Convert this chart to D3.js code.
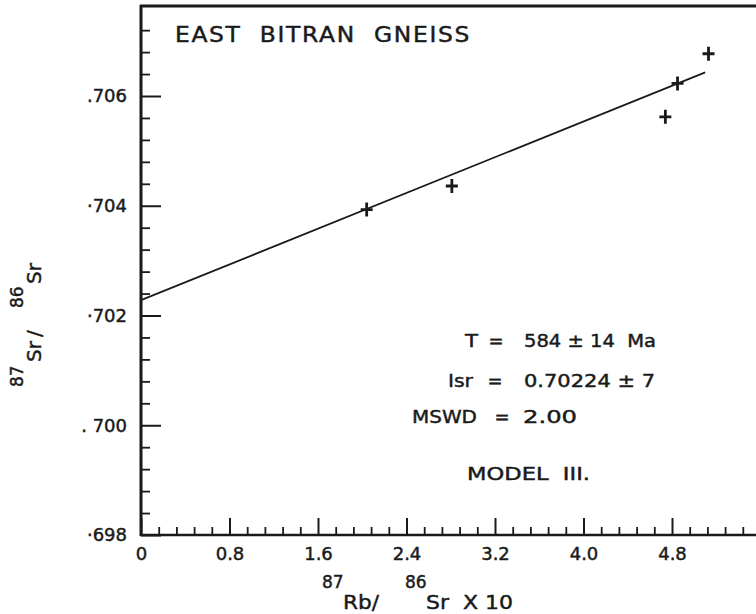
<!DOCTYPE html>
<html>
<head>
<meta charset="utf-8">
<script src="https://cdn.jsdelivr.net/npm/d3@7/dist/d3.min.js"></script>
<style>
  html, body { margin: 0; padding: 0; background: #fff; }
  svg { display: block; }
  text { font-family: "DejaVu Sans", sans-serif; fill: #1a1a1a; stroke: #1a1a1a; stroke-width: 0.45px; white-space: pre; }
</style>
</head>
<body>
<svg id="chart" width="756" height="614"></svg>
<script>
// ---- data ----
const rbSr = [2.04, 2.81, 4.74, 4.85, 5.13];          // 87Rb/86Sr x10
const srSr = [0.70393, 0.70436, 0.70562, 0.70623, 0.70677]; // 87Sr/86Sr
const isochronX = [0, 5.10];
const isochronY = [0.70228, 0.70643];

const xMajorTicks = [0, 0.8, 1.6, 2.4, 3.2, 4.0, 4.8];
const xTickLabels = ["0", "0.8", "1.6", "2.4", "3.2", "4.0", "4.8"];
const yMajorTicks = [0.698, 0.700, 0.702, 0.704, 0.706];
const yTickLabels = ["·698", ". 700", "·702", "·704", ".706"];

const titleText = "EAST  BITRAN  GNEISS";
const statLabels = ["T", "Isr", "MSWD"];
const statValues = ["584 ± 14  Ma", "0.70224 ± 7", "2.00"];
const modelText = "MODEL  III.";

// ---- layout ----
const svg = d3.select("#chart");
const x = d3.scaleLinear().domain([0, 5.6]).range([141, 760.5]);
const y = d3.scaleLinear().domain([0.698, 0.706]).range([535, 96]);
const yTop = 0.70764;

const xMinor = d3.range(0, 36).map(i => +(i * 0.16).toFixed(2)).filter(v => !xMajorTicks.some(m => Math.abs(m - v) < 1e-6));
const yMinor = d3.range(0, 24).map(i => +(0.698 + i * 0.0004).toFixed(4)).filter(v => !yMajorTicks.some(m => Math.abs(m - v) < 1e-7));

// minor ticks
svg.append("g").attr("transform", "translate(141,0)")
  .call(d3.axisLeft(y).tickValues(yMinor).tickSize(-9).tickFormat(""))
  .call(g => g.select(".domain").remove())
  .selectAll("line").attr("stroke", "#1a1a1a").attr("stroke-width", 1.8);
svg.append("g").attr("transform", "translate(0,535)")
  .call(d3.axisBottom(x).tickValues(xMinor).tickSize(-8).tickFormat(""))
  .call(g => g.select(".domain").remove())
  .selectAll("line").attr("stroke", "#1a1a1a").attr("stroke-width", 1.8);

// major ticks with labels
svg.append("g").attr("transform", "translate(141,0)")
  .call(d3.axisLeft(y).tickValues(yMajorTicks).tickSize(-20).tickPadding(14)
    .tickFormat((d, i) => yTickLabels[i]))
  .call(g => g.select(".domain").remove())
  .call(g => g.selectAll("line").attr("stroke", "#1a1a1a").attr("stroke-width", 2))
  .call(g => g.selectAll("text").attr("font-size", 18).attr("fill", "#1a1a1a")
    .attr("font-family", "DejaVu Sans, sans-serif"));
svg.append("g").attr("transform", "translate(0,535)")
  .call(d3.axisBottom(x).tickValues(xMajorTicks).tickSize(-17).tickPadding(12)
    .tickFormat((d, i) => xTickLabels[i]))
  .call(g => g.select(".domain").remove())
  .call(g => g.selectAll("line").attr("stroke", "#1a1a1a").attr("stroke-width", 2))
  .call(g => g.selectAll("text").attr("font-size", 18).attr("fill", "#1a1a1a")
    .attr("font-family", "DejaVu Sans, sans-serif"));

// frame: left axis, bottom axis, top border
svg.append("line").attr("x1", 141).attr("x2", 141).attr("y1", y(yTop) - 1).attr("y2", 536)
  .attr("stroke", "#1a1a1a").attr("stroke-width", 3);
svg.append("line").attr("x1", 140).attr("x2", 760).attr("y1", 535).attr("y2", 535)
  .attr("stroke", "#1a1a1a").attr("stroke-width", 2.5);
svg.append("line").attr("x1", 140).attr("x2", 760).attr("y1", y(yTop)).attr("y2", y(yTop))
  .attr("stroke", "#1a1a1a").attr("stroke-width", 3);

// isochron line
svg.append("path")
  .datum(isochronX.map((v, i) => [v, isochronY[i]]))
  .attr("d", d3.line().x(d => x(d[0])).y(d => y(d[1])))
  .attr("fill", "none").attr("stroke", "#1a1a1a").attr("stroke-width", 1.7);

// data crosses
const pts = rbSr.map((v, i) => [v, srSr[i]]);
svg.append("g").selectAll("path").data(pts).join("path")
  .attr("d", d => {
    const cx = x(d[0]), cy = y(d[1]);
    return `M${cx - 6},${cy}H${cx + 6}M${cx},${cy - 7}V${cy + 7}`;
  })
  .attr("stroke", "#1a1a1a").attr("stroke-width", 2.8).attr("fill", "none");

// title
svg.append("text").attr("x", 175).attr("y", 42).attr("font-size", 21)
  .attr("letter-spacing", 1.5)
  .attr("textLength", 296).attr("lengthAdjust", "spacingAndGlyphs").text(titleText);

// statistics block
const statRows = [
  { lx: 465, lw: 13, ex: 496, vx: 524, vw: 132, by: 347 },
  { lx: 448, lw: 25, ex: 495, vx: 524, vw: 131, by: 387 },
  { lx: 412, lw: 65, ex: 502, vx: 523, vw: 54, by: 423 }
];
statRows.forEach((r, i) => {
  svg.append("text").attr("x", r.lx).attr("y", r.by).attr("font-size", 18)
    .attr("textLength", r.lw).attr("lengthAdjust", "spacingAndGlyphs").text(statLabels[i]);
  svg.append("text").attr("x", r.ex).attr("y", r.by).attr("font-size", 18)
    .attr("text-anchor", "middle").text("=");
  svg.append("text").attr("x", r.vx).attr("y", r.by).attr("font-size", 18)
    .attr("textLength", r.vw).attr("lengthAdjust", "spacingAndGlyphs").text(statValues[i]);
});
svg.append("text").attr("x", 467).attr("y", 480).attr("font-size", 18)
  .attr("textLength", 123).attr("lengthAdjust", "spacingAndGlyphs").text(modelText);

// x-axis title: 87Rb/ 86Sr X 10
svg.append("text").attr("x", 322).attr("y", 588).attr("font-size", 17).text("87");
svg.append("text").attr("x", 343).attr("y", 609).attr("font-size", 20)
  .attr("textLength", 36).attr("lengthAdjust", "spacingAndGlyphs").text("Rb/");
svg.append("text").attr("x", 405).attr("y", 588).attr("font-size", 17).text("86");
svg.append("text").attr("x", 426).attr("y", 609).attr("font-size", 20)
  .attr("textLength", 87).attr("lengthAdjust", "spacingAndGlyphs").text("Sr  X 10");

// y-axis title: 87Sr / 86Sr (rotated)
const yl = svg.append("g").attr("transform", "rotate(-90)");
yl.append("text").attr("x", -387).attr("y", 23).attr("font-size", 17).text("87");
yl.append("text").attr("x", -362).attr("y", 41).attr("font-size", 20).text("Sr");
yl.append("text").attr("x", -337).attr("y", 41).attr("font-size", 20).text("/");
yl.append("text").attr("x", -308).attr("y", 23).attr("font-size", 17).text("86");
yl.append("text").attr("x", -284).attr("y", 41).attr("font-size", 20).text("Sr");
</script>
</body>
</html>
